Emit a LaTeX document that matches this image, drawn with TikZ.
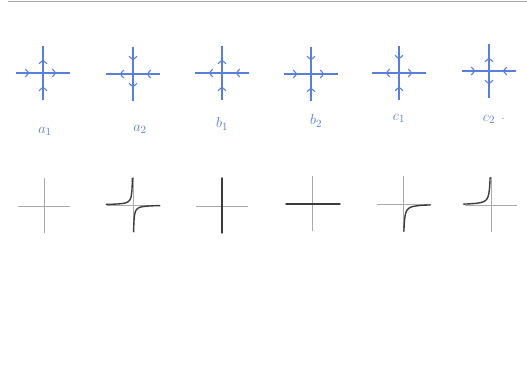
\documentclass[tikz,border=0pt]{standalone}
\usetikzlibrary{arrows.meta, decorations.markings}
\definecolor{penblue}{RGB}{88,126,222}
\definecolor{axisgray}{RGB}{170,170,170}
\definecolor{curvegray}{RGB}{60,60,60}
\tikzset{
  arm/.style = {
    penblue, line width=1.1pt, postaction={decorate},
    decoration={markings,
      mark=at position 0.5 with {\arrow{Straight Barb[length=3.5pt,width=8pt]}}}
  },
  axisline/.style = {axisgray, line width=0.6pt},
  branch/.style = {curvegray, line width=1.4pt, line cap=round},
  caselabel/.style = {penblue, font=\fontsize{15}{17}\selectfont}
}

\begin{document}
\begin{tikzpicture}[x=1pt, y=-1pt]
\useasboundingbox[fill=white] (0,0) rectangle (527,376);

% faint edge of the sheet
\draw[axisgray, line width=0.8pt] (8,1) -- (527,1);

% ----- PHASE PORTRAITS (top row) -----
% signs: left/right arm +1 = pointing right, top/bottom arm +1 = pointing up
\foreach \cx/\cy/\l/\r/\t/\b in {43/73/1/1/1/1, 133/74/-1/-1/-1/-1,
    222/73/-1/-1/1/1, 311/74/1/1/-1/1, 399/73/-1/1/-1/1, 489/71/1/-1/1/-1}{
  \draw[arm] ({\cx-13.5-13.5*(\l)},\cy) -- ({\cx-13.5+13.5*(\l)},\cy);
  \draw[arm] ({\cx+13.5-13.5*(\r)},\cy) -- ({\cx+13.5+13.5*(\r)},\cy);
  \draw[arm] (\cx,{\cy-13.5+13.5*(\t)}) -- (\cx,{\cy-13.5-13.5*(\t)});
  \draw[arm] (\cx,{\cy+13.5+13.5*(\b)}) -- (\cx,{\cy+13.5-13.5*(\b)});
}

% ----- LABELS -----
\node[caselabel] (lab-a1) at (45,131) {$a_1$};
\node[caselabel] (lab-a2) at (140,129) {$a_2$};
\node[caselabel] (lab-b1) at (222,124) {$b_1$};
\node[caselabel] (lab-b2) at (316,121) {$b_2$};
\node[caselabel] (lab-c1) at (399,118) {$c_1$};
\node[caselabel] (lab-c2) at (489,119) {$c_2$};
\node[caselabel] (lab-dot) at (503,119) {.};

% ----- AXES (bottom row) -----
\foreach \cx/\cy in {44/206, 133/205, 222/206, 312/204, 403/204, 491/205}{
  \draw[axisline] ({\cx-26},\cy) -- ({\cx+26},\cy);
  \draw[axisline] (\cx,{\cy-28}) -- (\cx,{\cy+27});
}

% dark branches
\draw[branch] plot[domain=-1.9:1.9, samples=60, variable=\s]
  ({133-4*exp(\s)},{205-4*exp(-\s)});
\draw[branch] plot[domain=-1.9:1.9, samples=60, variable=\s]
  ({133+4*exp(\s)},{205+4*exp(-\s)});
\draw[branch] (222,178) -- (222,233);
\draw[branch] (286,204) -- (340,204);
\draw[branch] plot[domain=-1.7:1.7, samples=60, variable=\s]
  ({403+5*exp(\s)},{204+5*exp(-\s)});
\draw[branch] plot[domain=-1.7:1.7, samples=60, variable=\s]
  ({491-5*exp(\s)},{205-5*exp(-\s)});

\end{tikzpicture}
\end{document}
